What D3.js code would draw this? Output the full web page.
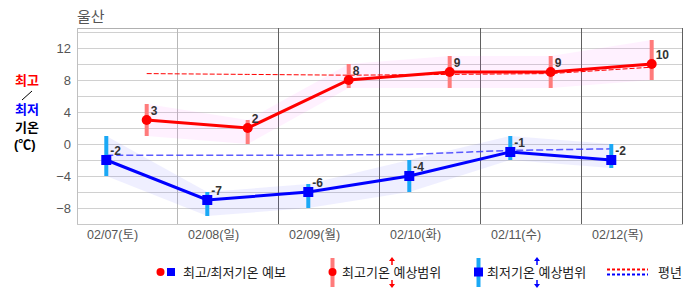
<!DOCTYPE html>
<html>
<head>
<meta charset="utf-8">
<script src="https://cdn.jsdelivr.net/npm/d3@7"></script>
<style>
  body { margin: 0; background: #fff; }
  svg { display: block; font-family: "Liberation Sans", "Noto Sans CJK KR", sans-serif; }
</style>
</head>
<body>
<svg id="chart" width="686" height="295"></svg>
<script>
// -- Data -- //
const days = ["02/07(토)", "02/08(일)", "02/09(월)", "02/10(화)", "02/11(수)", "02/12(목)"];
const maxTemp = [3, 2, 8, 9, 9, 10];
const minTemp = [-2, -7, -6, -4, -1, -2];
const maxLow = [1, 0, 7, 7, 7, 8];
const maxHigh = [5, 3, 10, 11, 11, 13];
const minLow = [-4, -9, -8, -6, -2, -3];
const minHigh = [1, -6, -5, -2, 1, 0];
const normalMax = [8.8, 8.7, 8.6, 8.7, 8.8, 9.6];
const normalMin = [-1.4, -1.4, -1.4, -1.3, -0.8, -0.6];
const yTicks = [-8, -4, 0, 4, 8, 12];

// -- Layout -- //
let margin = {left: 77, right: 683, top: 28, bottom: 224};
let svg = d3.select("#chart");

let x = d3.scaleLinear().domain([0, days.length]).range([margin.left, margin.right]);
let y = d3.scaleLinear().domain([-10, 14.5]).range([margin.bottom, margin.top]);
// min temp ~ early morning, max temp ~ afternoon
let xMin = i => x(i + 0.29);
let xMax = i => x(i + 0.69);
let idx = d3.range(days.length);

// Horizontal grid every 2 degrees
svg.append("g").selectAll("line")
  .data(d3.range(-8, 15, 2))
  .join("line")
    .attr("x1", margin.left).attr("x2", margin.right)
    .attr("y1", d => y(d) + 0.5).attr("y2", d => y(d) + 0.5)
    .attr("stroke", "#d0d0d0");

// Frame: top, bottom, left
svg.append("line")
  .attr("x1", margin.left).attr("x2", margin.right)
  .attr("y1", margin.top + 0.5).attr("y2", margin.top + 0.5)
  .attr("stroke", "#b0b0b0");
svg.append("line")
  .attr("x1", margin.left).attr("x2", margin.right)
  .attr("y1", margin.bottom + 0.5).attr("y2", margin.bottom + 0.5)
  .attr("stroke", "#c8c8c8");
svg.append("line")
  .attr("x1", margin.left + 0.5).attr("x2", margin.left + 0.5)
  .attr("y1", margin.top).attr("y2", margin.bottom)
  .attr("stroke", "#c0c0c0");

// Day boundaries
svg.append("g").selectAll("line")
  .data(d3.range(1, days.length + 1))
  .join("line")
    .attr("x1", d => Math.round(x(d)) - 0.5).attr("x2", d => Math.round(x(d)) - 0.5)
    .attr("y1", margin.top).attr("y2", margin.bottom)
    .attr("stroke", d => d === 1 ? "#b8b8b8" : "#606060");

// Y tick labels
svg.append("g").selectAll("text")
  .data(yTicks)
  .join("text")
    .attr("x", 71).attr("y", d => y(d) + 4.5)
    .attr("text-anchor", "end")
    .attr("font-size", 13).attr("fill", "#555")
    .text(d => d3.format("d")(d));

// X tick labels
svg.append("g").selectAll("text")
  .data(days)
  .join("text")
    .attr("x", (d, i) => x(i) + 10).attr("y", 239)
    .attr("font-size", 12.5).attr("fill", "#555")
    .text(d => d);

// Title
svg.append("text")
  .attr("x", 77).attr("y", 22)
  .attr("font-size", 15).attr("fill", "#555")
  .text("울산");

// Y axis title
let yt = svg.append("g").attr("font-size", 13).attr("font-weight", "bold");
yt.append("text").attr("x", 15).attr("y", 85).attr("fill", "#f00").text("최고");
yt.append("line").attr("x1", 22).attr("y1", 100).attr("x2", 32).attr("y2", 91)
  .attr("stroke", "#000").attr("stroke-width", 1);
yt.append("text").attr("x", 15).attr("y", 114).attr("fill", "#00f").text("최저");
yt.append("text").attr("x", 15).attr("y", 132).attr("fill", "#000").text("기온");
yt.append("text").attr("x", 14).attr("y", 149).attr("fill", "#000").text("(℃)");

// Range bands
svg.append("path")
  .datum(idx)
  .attr("fill", "#ff66ff").attr("fill-opacity", 0.09)
  .attr("d", d3.area().x(xMax).y0(i => y(maxLow[i])).y1(i => y(maxHigh[i])));
svg.append("path")
  .datum(idx)
  .attr("fill", "#6666ff").attr("fill-opacity", 0.1)
  .attr("d", d3.area().x(xMin).y0(i => y(minLow[i])).y1(i => y(minHigh[i])));

// Normal lines
svg.append("path")
  .datum(idx)
  .attr("fill", "none").attr("stroke", "#f00").attr("stroke-width", 1)
  .attr("stroke-dasharray", "5,2")
  .attr("d", d3.line().x(xMax).y(i => y(normalMax[i])));
svg.append("path")
  .datum(idx)
  .attr("fill", "none").attr("stroke", "#3333ff").attr("stroke-opacity", 0.8)
  .attr("stroke-width", 1.5)
  .attr("stroke-dasharray", "7,3")
  .attr("d", d3.line().x(xMin).y(i => y(normalMin[i])));

// Range bars
svg.append("g").selectAll("line")
  .data(idx)
  .join("line")
    .attr("x1", xMax).attr("x2", xMax)
    .attr("y1", i => y(maxLow[i])).attr("y2", i => y(maxHigh[i]))
    .attr("stroke", "#ff7b7b").attr("stroke-width", 4);
svg.append("g").selectAll("line")
  .data(idx)
  .join("line")
    .attr("x1", xMin).attr("x2", xMin)
    .attr("y1", i => y(minLow[i])).attr("y2", i => y(minHigh[i]))
    .attr("stroke", "#1aa8f5").attr("stroke-width", 4);

// Main lines
svg.append("path")
  .datum(idx)
  .attr("fill", "none").attr("stroke", "#f00").attr("stroke-width", 3)
  .attr("d", d3.line().x(xMax).y(i => y(maxTemp[i])));
svg.append("path")
  .datum(idx)
  .attr("fill", "none").attr("stroke", "#00f").attr("stroke-width", 3)
  .attr("d", d3.line().x(xMin).y(i => y(minTemp[i])));

// Markers
svg.append("g").selectAll("circle")
  .data(idx)
  .join("circle")
    .attr("cx", xMax).attr("cy", i => y(maxTemp[i])).attr("r", 5)
    .attr("fill", "#f00");
svg.append("g").selectAll("rect")
  .data(idx)
  .join("rect")
    .attr("x", i => xMin(i) - 5).attr("y", i => y(minTemp[i]) - 5)
    .attr("width", 10).attr("height", 10)
    .attr("fill", "#00f");

// Value labels
let lab = svg.append("g").attr("font-size", 12).attr("font-weight", "bold").attr("fill", "#333");
lab.selectAll(".mx")
  .data(idx)
  .join("text")
    .attr("x", i => xMax(i) + 4).attr("y", i => y(maxTemp[i]) - 5)
    .text(i => maxTemp[i]);
lab.selectAll(".mn")
  .data(idx)
  .join("text")
    .attr("x", i => xMin(i) + 4).attr("y", i => y(minTemp[i]) - 5)
    .text(i => minTemp[i]);

// -- Legend -- //
let lg = svg.append("g").attr("font-size", 13).attr("fill", "#222");
let ly = 272;
// forecast
lg.append("circle").attr("cx", 160.5).attr("cy", ly).attr("r", 4).attr("fill", "#f00");
lg.append("rect").attr("x", 167).attr("y", ly - 4).attr("width", 8).attr("height", 8).attr("fill", "#00f");
lg.append("text").attr("x", 183).attr("y", ly + 5).text("최고/최저기온 예보");
// max range
lg.append("line").attr("x1", 332.5).attr("x2", 332.5).attr("y1", 258).attr("y2", 287)
  .attr("stroke", "#ff7b7b").attr("stroke-width", 4);
lg.append("circle").attr("cx", 332.5).attr("cy", ly).attr("r", 4).attr("fill", "#f00");
lg.append("text").attr("x", 342).attr("y", ly + 5).text("최고기온 예상범위");
// min range
lg.append("line").attr("x1", 478.5).attr("x2", 478.5).attr("y1", 258).attr("y2", 287)
  .attr("stroke", "#1aa8f5").attr("stroke-width", 4);
lg.append("rect").attr("x", 474).attr("y", ly - 4.5).attr("width", 9).attr("height", 9).attr("fill", "#00f");
lg.append("text").attr("x", 487).attr("y", ly + 5).text("최저기온 예상범위");

// split up/down arrows
function splitArrow(cx, colour) {
  let g = lg.append("g").attr("fill", colour).attr("stroke", colour);
  g.append("line").attr("x1", cx).attr("x2", cx).attr("y1", 260).attr("y2", 265).attr("stroke-width", 1.5);
  g.append("path").attr("stroke", "none")
    .attr("d", `M${cx - 3},261 L${cx},257 L${cx + 3},261 Z`);
  g.append("line").attr("x1", cx).attr("x2", cx).attr("y1", 280).attr("y2", 285).attr("stroke-width", 1.5);
  g.append("path").attr("stroke", "none")
    .attr("d", `M${cx - 3},284 L${cx},288 L${cx + 3},284 Z`);
}
splitArrow(392, "#f00");
splitArrow(537, "#00f");

// normal
lg.append("line").attr("x1", 607).attr("x2", 648).attr("y1", 269.5).attr("y2", 269.5)
  .attr("stroke", "#f00").attr("stroke-width", 2).attr("stroke-dasharray", "3,2");
lg.append("line").attr("x1", 607).attr("x2", 648).attr("y1", 274.5).attr("y2", 274.5)
  .attr("stroke", "#00f").attr("stroke-width", 2).attr("stroke-dasharray", "3,2");
lg.append("text").attr("x", 658).attr("y", ly + 5).text("평년");
</script>
</body>
</html>
